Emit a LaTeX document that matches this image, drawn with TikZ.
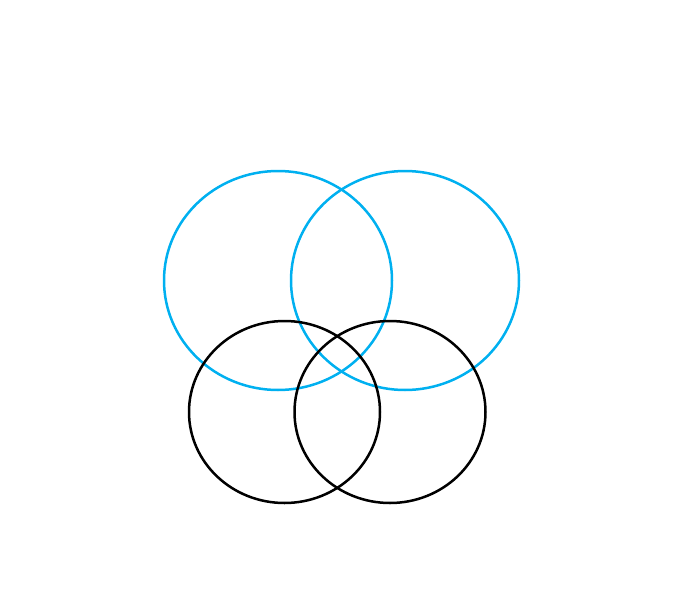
\documentclass[tikz,border=0pt]{standalone}
\definecolor{skyblue}{HTML}{00B0F0}
\begin{document}
\begin{tikzpicture}[x=1pt,y=-1pt,line width=2.5pt]
  \useasboundingbox (0,0) rectangle (678,600);
  \draw[skyblue] (278,280.5) ellipse (114 and 109.5);
  \draw[skyblue] (405,280.5) ellipse (114 and 109.5);
  \draw (284.5,412) ellipse (95.5 and 91);
  \draw (390,412) ellipse (95.5 and 91);
\end{tikzpicture}
\end{document}
